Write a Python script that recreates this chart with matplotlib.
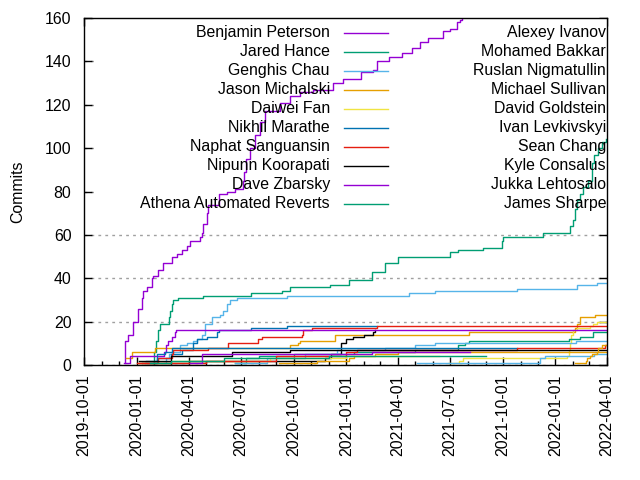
import matplotlib
matplotlib.use("Agg")
import matplotlib.pyplot as plt
import matplotlib.dates as mdates
import pandas as pd
from matplotlib.lines import Line2D
from matplotlib.patches import Rectangle

plt.rcParams['font.family'] = ['Liberation Sans', 'DejaVu Sans']

END = "2022-03-30"

names = [
    "Benjamin Peterson", "Jared Hance", "Genghis Chau", "Jason Michalski",
    "Daiwei Fan", "Nikhil Marathe", "Naphat Sanguansin", "Nipunn Koorapati",
    "Dave Zbarsky", "Athena Automated Reverts", "Alexey Ivanov",
    "Mohamed Bakkar", "Ruslan Nigmatullin", "Michael Sullivan",
    "David Goldstein", "Ivan Levkivskyi", "Sean Chang", "Kyle Consalus",
    "Jukka Lehtosalo", "James Sharpe",
]

# gnuplot default line colours, cycled
palette = ["#9400d3", "#009e73", "#56b4e9", "#e69f00",
           "#f0e442", "#0072b2", "#e51e10", "#000000"]

# cumulative commits per author (step points)
benjamin_dates = ["2019-12-11", "2019-12-12", "2019-12-16", "2019-12-25", "2020-01-03",
                  "2020-01-10", "2020-01-12", "2020-01-19", "2020-01-27", "2020-01-29",
                  "2020-02-07", "2020-02-16", "2020-03-02", "2020-03-11", "2020-03-20",
                  "2020-03-29", "2020-04-03", "2020-04-21", "2020-04-24", "2020-04-25",
                  "2020-05-03", "2020-05-05", "2020-05-23", "2020-06-07", "2020-06-21",
                  "2020-07-04", "2020-07-06", "2020-07-10", "2020-07-17", "2020-07-25",
                  "2020-08-03", "2020-08-12", "2020-09-07", "2020-09-25", "2020-10-12",
                  "2020-11-03", "2020-12-09", "2020-12-27", "2021-01-26", "2021-02-16",
                  "2021-02-23", "2021-03-17", "2021-04-08", "2021-04-26", "2021-05-10",
                  "2021-05-24", "2021-06-19", "2021-07-01", "2021-07-13", "2021-07-18",
                  "2021-07-22", "2021-08-20", END]
benjamin_vals = [1, 11, 14, 20, 26, 31, 34, 36, 40, 41, 44, 47, 50, 51, 53, 55, 57, 59, 61, 65,
                 70, 74, 79, 80, 81, 85, 89, 95, 100, 106, 112, 117, 121, 124, 126, 127, 130,
                 132, 135, 136, 140, 142, 144, 146, 149, 151, 154, 155, 158, 159, 161, 165, 210]

jared_dates = ["2020-01-30", "2020-02-01", "2020-02-04", "2020-02-07", "2020-02-10",
               "2020-02-26", "2020-02-28", "2020-03-02", "2020-03-04", "2020-03-13",
               "2020-04-25", "2020-07-18", "2020-09-10", "2020-09-24", "2020-12-03",
               "2021-01-05", "2021-02-15", "2021-03-10", "2021-04-01", "2021-07-01",
               "2021-07-15", "2021-08-27", "2021-09-29", "2021-10-02", "2021-12-10",
               "2022-01-26", "2022-02-01", "2022-02-04", "2022-02-07", "2022-02-13",
               "2022-02-18", "2022-02-26", "2022-03-05", "2022-03-10", "2022-03-16",
               "2022-03-23", END]
jared_vals = [1, 6, 11, 16, 19, 22, 25, 28, 30, 31, 32, 33, 34, 36, 37, 39, 43, 47, 50, 52,
              53, 54, 57, 59, 61, 64, 67, 72, 76, 79, 82, 85, 93, 97, 100, 103, 104]

genghis_dates = ["2020-02-18", "2020-02-22", "2020-02-27", "2020-03-03", "2020-03-17",
                 "2020-03-29", "2020-04-08", "2020-04-15", "2020-04-24", "2020-04-29",
                 "2020-05-11", "2020-05-25", "2020-05-31", "2020-06-07", "2020-06-12",
                 "2020-06-24", "2020-09-19", "2021-04-21", "2021-06-05", "2021-10-26",
                 "2022-02-07", "2022-03-14", END]
genghis_vals = [1, 3, 5, 6, 9, 10, 11, 12, 14, 19, 22, 23, 25, 28, 30, 31, 32, 33, 34, 35,
                37, 38, 38]

jason_dates = ["2019-12-14", "2019-12-24", "2020-02-02", "2020-09-24", "2020-10-08",
               "2020-10-12", "2020-12-12", "2021-08-03", "2022-02-05", "2022-02-07",
               "2022-02-12", "2022-03-11", END]
jason_vals = [3, 6, 8, 9, 10, 11, 14, 15, 17, 19, 22, 23, 23]

daiwei_dates = ["2021-06-27", "2021-07-16", "2021-07-23", "2022-01-21", "2022-01-24",
                "2022-01-26", "2022-01-29", "2022-02-01", "2022-02-07", "2022-03-03",
                "2022-03-08", "2022-03-14", END]
daiwei_vals = [1, 2, 3, 4, 7, 10, 14, 16, 17, 18, 19, 20, 20]

nikhil_dates = ["2020-01-15", "2020-02-05", "2020-03-01", "2020-03-20", "2020-04-08",
                "2020-04-15", "2020-05-02", "2020-05-20", "2020-05-23", "2020-07-18",
                "2020-09-19", "2021-02-23"]
nikhil_vals = [1, 3, 5, 7, 10, 12, 13, 15, 16, 17, 18, 18]

naphat_dates = ["2020-01-05", "2020-02-07", "2020-03-02", "2020-03-04", "2020-05-04",
                "2020-06-08", "2020-07-30", "2020-08-06", "2020-10-15", "2020-10-17",
                "2020-11-02", "2021-02-23", END]
naphat_vals = [1, 3, 5, 7, 8, 10, 12, 13, 14, 16, 17, 18, 18]

nipunn_dates = ["2020-01-10", "2020-04-01", "2020-11-25", "2020-12-06", "2020-12-23",
                "2020-12-31", "2021-01-12", "2021-02-01", "2021-02-16", "2021-02-20"]
nipunn_vals = [1, 2, 3, 5, 10, 12, 13, 14, 15, 16]

dave_dates = ["2019-12-10", "2019-12-20", "2020-02-18", "2020-02-22", "2020-02-24",
              "2020-03-02", "2020-03-07", "2020-03-10", END]
dave_vals = [1, 4, 6, 9, 11, 13, 15, 16, 16]

athena_dates = ["2020-06-20", "2020-07-10", "2020-08-01", "2020-10-01", "2021-01-15",
                "2021-05-01", "2021-07-15", "2021-07-27", "2021-08-03", "2022-01-24",
                "2022-02-12", "2022-03-07", END]
athena_vals = [1, 3, 4, 5, 6, 7, 9, 10, 11, 12, 13, 15, 15]

alexey_dates = ["2020-06-20", "2020-08-15", "2020-10-20", "2020-12-15", "2021-03-10",
                "2021-05-01", "2021-06-05", "2022-02-06", END]
alexey_vals = [1, 3, 5, 7, 8, 9, 10, 11, 11]

mohamed_dates = ["2020-09-05", "2020-11-10", "2021-01-05", "2021-01-15", "2021-02-20",
                 "2021-04-01", END]
mohamed_vals = [1, 2, 3, 4, 5, 6, 6]

ruslan_dates = ["2020-01-05", "2020-03-01", "2020-08-20", "2021-01-01", "2021-06-11"]
ruslan_vals = [1, 2, 3, 4, 4]

michael_dates = ["2020-01-18", "2020-02-05", "2020-02-19", "2020-03-02", "2021-10-26"]
michael_vals = [2, 5, 6, 8, 8]

david_dates = ["2020-01-01", "2020-05-01", "2020-09-01", "2021-01-01", "2021-01-20",
               "2021-10-26", "2022-03-28", END]
david_vals = [1, 2, 4, 6, 7, 8, 9, 9]

ivan_dates = ["2020-01-05", "2020-03-01", "2020-06-15", "2020-09-25", END]
ivan_vals = [2, 4, 6, 7, 7]

sean_dates = ["2020-04-03", "2020-04-24", "2021-02-15", "2021-08-05"]
sean_vals = [1, 5, 6, 6]

kyle_dates = ["2020-01-25", "2020-03-01", "2020-06-01", "2020-12-01", "2021-09-01"]
kyle_vals = [1, 2, 3, 4, 4]

jukka_dates = ["2021-05-05", "2021-12-05", "2021-12-13", "2022-03-10", END]
jukka_vals = [1, 3, 4, 5, 5]

james_dates = ["2022-02-05", "2022-02-23", "2022-02-25", "2022-03-03", "2022-03-05",
               "2022-03-14", "2022-03-17", "2022-03-24", END]
james_vals = [1, 2, 3, 4, 5, 6, 8, 9, 9]

series = [
    (benjamin_dates, benjamin_vals), (jared_dates, jared_vals),
    (genghis_dates, genghis_vals), (jason_dates, jason_vals),
    (daiwei_dates, daiwei_vals), (nikhil_dates, nikhil_vals),
    (naphat_dates, naphat_vals), (nipunn_dates, nipunn_vals),
    (dave_dates, dave_vals), (athena_dates, athena_vals),
    (alexey_dates, alexey_vals), (mohamed_dates, mohamed_vals),
    (ruslan_dates, ruslan_vals), (michael_dates, michael_vals),
    (david_dates, david_vals), (ivan_dates, ivan_vals),
    (sean_dates, sean_vals), (kyle_dates, kyle_vals),
    (jukka_dates, jukka_vals), (james_dates, james_vals),
]

FS = 11.4

fig = plt.figure(figsize=(6.4, 4.8), dpi=100)
ax = fig.add_axes([84 / 640, 1 - 365 / 480, 523 / 640, 347 / 480])

# grid first, then an opaque key area, then data on top
ax.set_yticks(range(0, 161, 20))
ax.yaxis.grid(True, color="#a0a0a0", linestyle=(0, (2, 3)), linewidth=1.0, zorder=0)
ax.set_axisbelow(True)
ax.add_patch(Rectangle((0.02, 70), 0.98, 90, transform=ax.get_yaxis_transform(),
                       facecolor="white", edgecolor="none", zorder=0.8))

for i, (d, v) in enumerate(series):
    ax.step(pd.to_datetime(d), v, where="post", color=palette[i % 8],
            linewidth=1.0, zorder=2)

ax.set_xlim(pd.Timestamp("2019-10-01"), pd.Timestamp("2022-04-01"))
ax.set_ylim(0, 160)
ax.xaxis.set_major_locator(mdates.MonthLocator(bymonth=[1, 4, 7, 10]))
ax.xaxis.set_minor_locator(mdates.MonthLocator())
ax.xaxis.set_major_formatter(mdates.DateFormatter("%Y-%m-%d"))
ax.tick_params(axis="both", which="both", direction="in", top=True, right=True,
               labelsize=FS, colors="black")
ax.tick_params(which="major", length=6, width=1)
ax.tick_params(which="minor", length=3, width=1)
ax.tick_params(axis="x", labelrotation=90, pad=7)
ax.tick_params(axis="y", pad=9)
for s in ax.spines.values():
    s.set_linewidth(1.0)
ax.set_ylabel("Commits", fontsize=FS, labelpad=14)

# gnuplot-style key: two columns, text right-aligned, sample to the right
row0, step = 32.7, 19.0
for i, name in enumerate(names):
    r = i % 10
    y = 1 - (row0 + r * step) / 480
    if i < 10:
        fig.text(330 / 640, y, name, ha="right", va="center", fontsize=FS, zorder=1)
        fig.add_artist(Line2D([344 / 640, 388 / 640], [y, y], color=palette[i % 8],
                              linewidth=1.0))
    else:
        fig.text(606 / 640, y, name, ha="right", va="center", fontsize=FS, zorder=1)

fig.savefig("out.png", dpi=100)
